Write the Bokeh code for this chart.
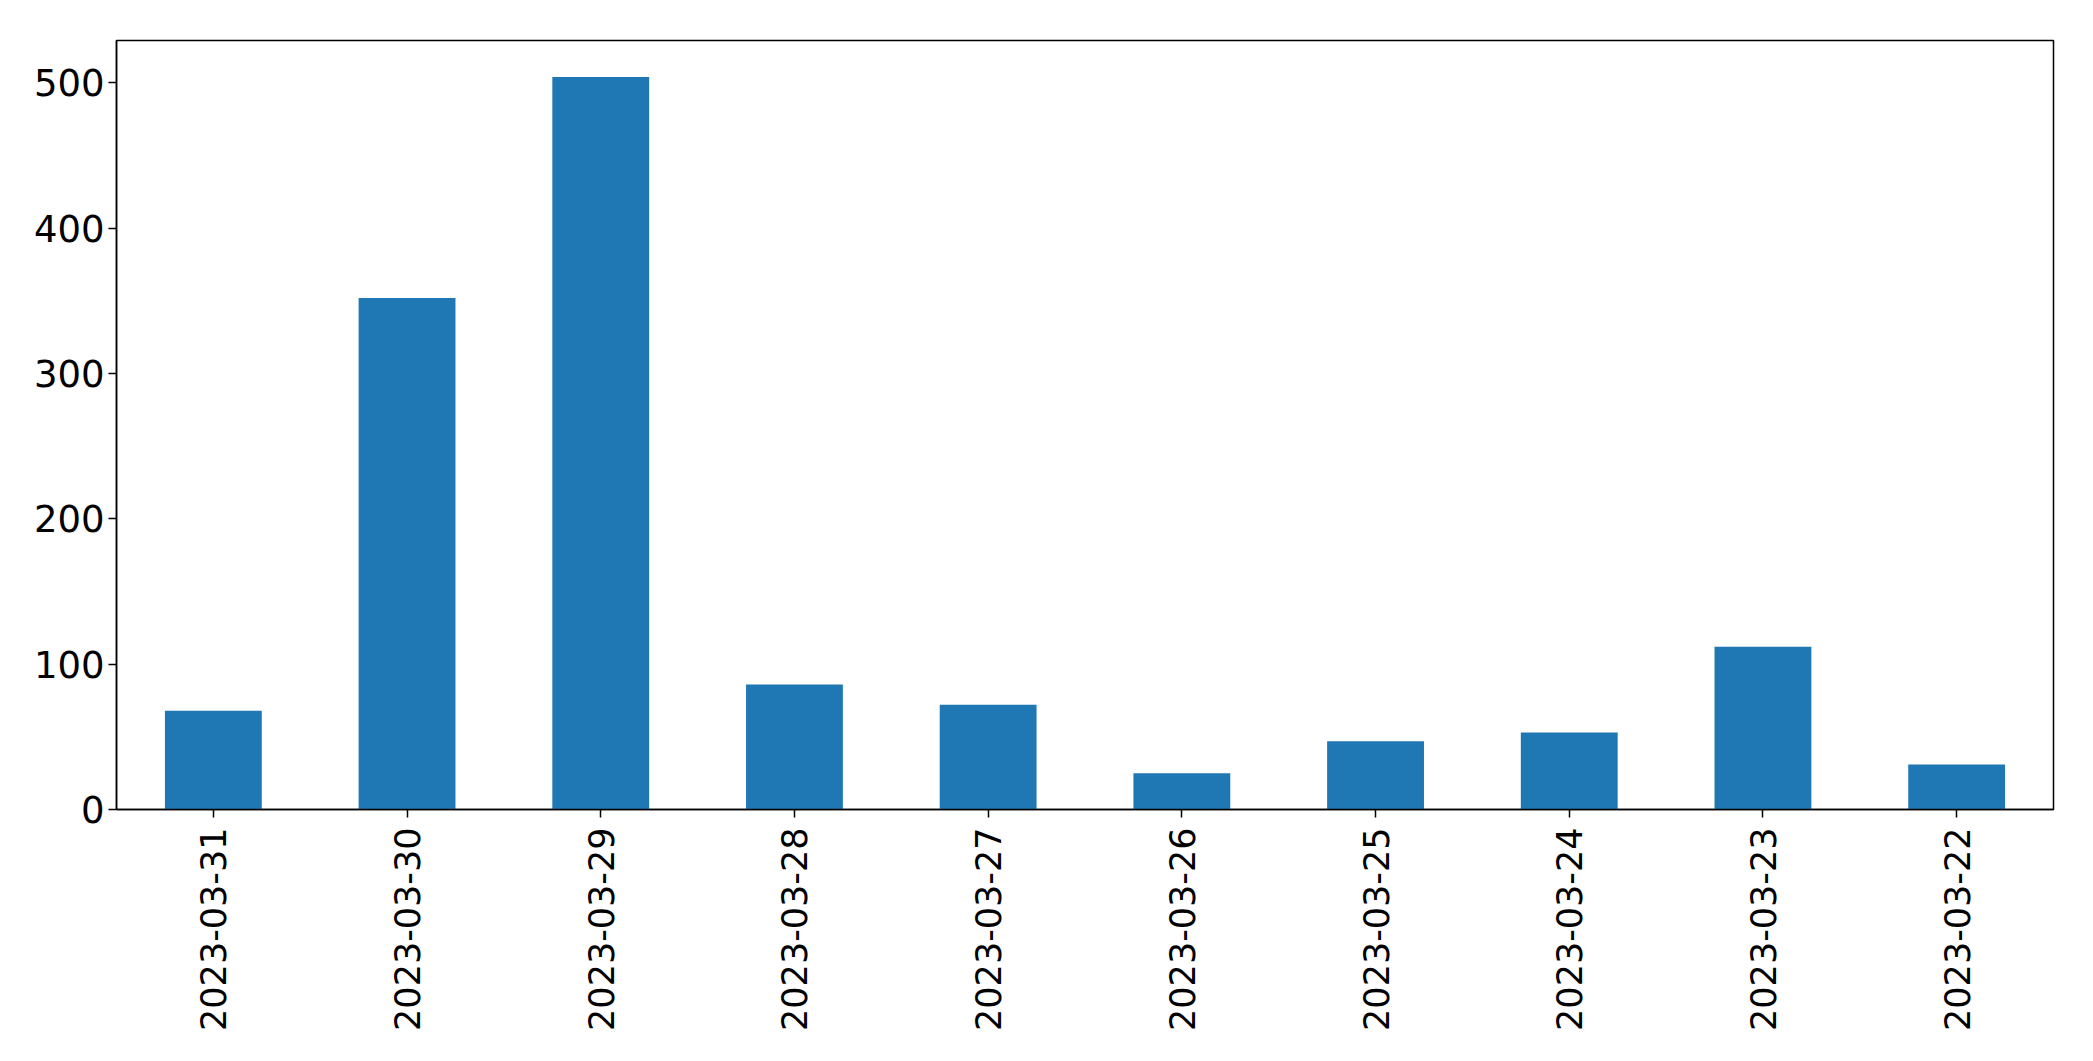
import math
from bokeh.plotting import figure
from bokeh.models import Range1d, FixedTicker
from bokeh.embed import file_html
from bokeh.resources import INLINE

dates = ["2023-03-31", "2023-03-30", "2023-03-29", "2023-03-28", "2023-03-27",
         "2023-03-26", "2023-03-25", "2023-03-24", "2023-03-23", "2023-03-22"]
counts = [68, 352, 504, 86, 72, 25, 47, 53, 112, 31]
y_ticks = [0, 100, 200, 300, 400, 500]

p = figure(x_range=dates, y_range=Range1d(0, max(counts) * 1.05),
           width=2077, height=1045, output_backend="svg", toolbar_location=None,
           min_border_left=116, min_border_top=40, min_border_right=24, min_border_bottom=236)

p.vbar(x=dates, top=counts, width=0.5, color="#1f77b4", line_color=None)

p.xgrid.visible = False
p.ygrid.visible = False
p.outline_line_color = "black"
p.outline_line_width = 1.5
p.background_fill_color = "white"
p.border_fill_color = "white"

p.yaxis.ticker = FixedTicker(ticks=y_ticks)
p.yaxis.minor_tick_line_color = None

for ax in (p.xaxis, p.yaxis):
    ax.axis_line_color = "black"
    ax.axis_line_width = 1.5
    ax.major_tick_line_color = "black"
    ax.major_tick_line_width = 1.5
    ax.major_tick_out = 8
    ax.major_tick_in = 0
    ax.major_label_text_font = "DejaVu Sans"
    ax.major_label_text_color = "black"

p.xaxis.major_label_text_font_size = "35px"
p.yaxis.major_label_text_font_size = "37px"
p.yaxis.major_label_standoff = 4
p.xaxis.major_label_standoff = 10
p.xaxis.major_label_orientation = math.pi / 2

open("out.html", "w").write(file_html(p, INLINE))
